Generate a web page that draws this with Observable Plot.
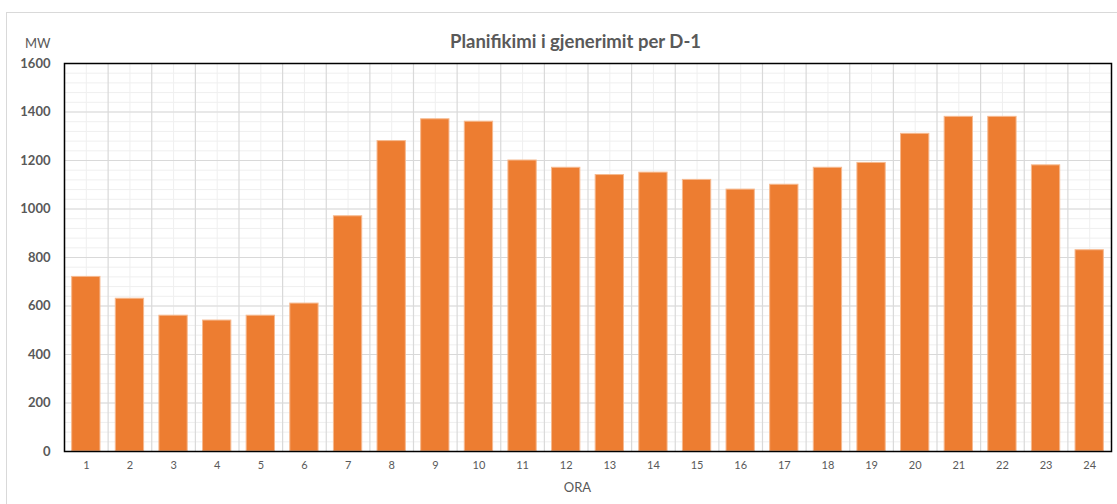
<!DOCTYPE html>
<html><head><meta charset="utf-8">
<script src="https://cdn.jsdelivr.net/npm/d3@7"></script>
<script src="https://cdn.jsdelivr.net/npm/@observablehq/plot@0.6"></script>
<style>
body{margin:0;background:#fff;font-family:Lato,"Liberation Sans",sans-serif;}
#wrap{position:relative;width:1117px;height:504px;overflow:hidden;background:#fff;}
#border{position:absolute;left:6px;top:12px;width:1200px;height:600px;border:1px solid #d9d9d9;box-sizing:border-box;}
#chart{position:absolute;left:0;top:0;}
.t{position:absolute;color:#595959;white-space:nowrap;line-height:1;}
#title{left:0;width:1151px;top:32px;text-align:center;font-size:18.5px;font-weight:bold;}
#mw{left:25px;top:37px;font-size:13px;}
#ora{left:0;width:1155px;top:481px;text-align:center;font-size:13px;}
</style></head><body>
<div id="wrap">
<div id="border"></div>
<div id="chart"></div>
<div class="t" id="title">Planifikimi i gjenerimit per D-1</div>
<div class="t" id="mw">MW</div>
<div class="t" id="ora">ORA</div>
</div>
<script>
const hours = ["1","2","3","4","5","6","7","8","9","10","11","12","13","14","15","16","17","18","19","20","21","22","23","24"];
const mw = [720,630,560,540,560,610,970,1280,1370,1360,1200,1170,1140,1150,1120,1080,1100,1170,1190,1310,1380,1380,1180,830];
const yTicks = [0,200,400,600,800,1000,1200,1400,1600];
const yMinor = d3.range(0,1601,40);

const data = hours.map((h,i)=>({hour:h, value:mw[i]}));
const W = 1117, H = 504, mL = 64, mR = 6, mT = 63, mB = 53;
const bw = (W - mL - mR) / hours.length;
const inset = (bw - 28.3) / 2;

const chart = Plot.plot({
  width: W, height: H,
  marginLeft: mL, marginRight: mR, marginTop: mT, marginBottom: mB,
  style: {background: "transparent", color: "#595959", fontFamily: "Lato, 'Liberation Sans', sans-serif"},
  x: {type: "band", domain: hours, padding: 0, round: false, label: null},
  y: {domain: [0,1600], label: null},
  marks: [
    Plot.ruleY(yMinor, {stroke: "#efefef", strokeWidth: 1}),
    Plot.ruleX(hours, {stroke: "#efefef", strokeWidth: 1}),
    Plot.ruleY(yTicks, {stroke: "#d9d9d9", strokeWidth: 1.2}),
    Plot.ruleX(hours, {stroke: "#d9d9d9", strokeWidth: 1.2, dx: -bw/2}),
    Plot.barY(data, {x: "hour", y: "value", fill: "#ED7D31", stroke: "#F6B98F", strokeWidth: 1, insetLeft: inset, insetRight: inset}),
    Plot.axisY({ticks: yTicks, tickSize: 0, tickPadding: 14, fontSize: 13, fontWeight: "bold", tickFormat: d3.format("d"), label: null}),
    Plot.axisX({tickSize: 0, tickPadding: 10, fontSize: 11, label: null}),
    Plot.frame({stroke: "#000", strokeWidth: 1.5})
  ]
});
document.getElementById("chart").appendChild(chart);
</script>
</body></html>
